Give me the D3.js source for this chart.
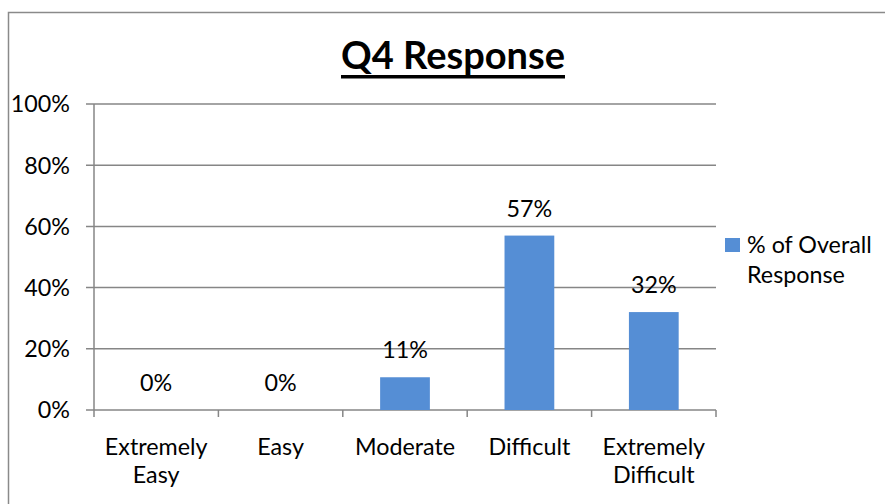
<!DOCTYPE html>
<html>
<head>
<meta charset="utf-8">
<script src="https://cdn.jsdelivr.net/npm/d3@7"></script>
<style>
  html, body { margin: 0; padding: 0; background: #fff; }
  svg { display: block; font-family: Lato, "Open Sans", sans-serif; }
</style>
</head>
<body>
<div id="chart"></div>
<script>
(function () {
  "use strict";

  // Data
  var categories = ["Extremely Easy", "Easy", "Moderate", "Difficult", "Extremely Difficult"];
  var values = [0, 0, 0.107, 0.57, 0.32];
  var value_labels = ["0%", "0%", "11%", "57%", "32%"];
  var y_ticks = [0, 0.2, 0.4, 0.6, 0.8, 1.0];
  var series_name = ["% of Overall", "Response"];
  var title_text = "Q4 Response";

  var W = 885, H = 504;
  var bar_color = "#558ED5";
  var grid_color = "#868686";
  var font_size = 23.3;

  var svg = d3.select("#chart").append("svg")
    .attr("width", W)
    .attr("height", H);

  // Chart border (runs off the right and bottom edges)
  svg.append("rect")
    .attr("x", 8.5).attr("y", 12.5)
    .attr("width", W + 20).attr("height", H + 20)
    .attr("fill", "none")
    .attr("stroke", "#8a8a8a")
    .attr("stroke-width", 1.5);

  // Scales
  var x = d3.scaleBand().domain(categories).range([94, 716]);
  var y = d3.scaleLinear().domain([0, 1]).range([410, 104]);
  var bar_w = x.bandwidth() * 0.4;

  // Gridlines + y ticks
  svg.append("g")
    .selectAll("line")
    .data(y_ticks)
    .enter()
    .append("line")
    .attr("x1", 86).attr("x2", 716)
    .attr("y1", function (d) { return y(d); })
    .attr("y2", function (d) { return y(d); })
    .attr("stroke", grid_color)
    .attr("stroke-width", 1.5);

  svg.append("g")
    .selectAll("text")
    .data(y_ticks)
    .enter()
    .append("text")
    .attr("x", 70)
    .attr("y", function (d) { return y(d); })
    .attr("dy", "0.36em")
    .attr("text-anchor", "end")
    .attr("font-size", font_size)
    .attr("fill", "#000")
    .text(d3.format(".0%"));

  // Y axis line
  svg.append("line")
    .attr("x1", 94).attr("x2", 94)
    .attr("y1", y(1)).attr("y2", y(0))
    .attr("stroke", grid_color)
    .attr("stroke-width", 1.5);

  // X axis ticks at category boundaries
  var boundaries = categories.map(function (c) { return x(c); }).concat([x.range()[1]]);
  svg.append("g")
    .selectAll("line")
    .data(boundaries)
    .enter()
    .append("line")
    .attr("x1", function (d) { return d; })
    .attr("x2", function (d) { return d; })
    .attr("y1", y(0)).attr("y2", y(0) + 7)
    .attr("stroke", grid_color)
    .attr("stroke-width", 1.5);

  // Bars
  svg.append("g")
    .selectAll("rect")
    .data(values)
    .enter()
    .append("rect")
    .attr("x", function (d, i) { return x(categories[i]) + (x.bandwidth() - bar_w) / 2; })
    .attr("y", function (d) { return y(d); })
    .attr("width", bar_w)
    .attr("height", function (d) { return y(0) - y(d); })
    .attr("fill", bar_color);

  // Value labels
  svg.append("g")
    .selectAll("text")
    .data(values)
    .enter()
    .append("text")
    .attr("x", function (d, i) { return x(categories[i]) + x.bandwidth() / 2; })
    .attr("y", function (d) { return y(d) - 19; })
    .attr("text-anchor", "middle")
    .attr("font-size", font_size)
    .attr("fill", "#000")
    .text(function (d, i) { return value_labels[i]; });

  // Category labels, wrapped on spaces
  var cat_g = svg.append("g")
    .selectAll("text")
    .data(categories)
    .enter()
    .append("text")
    .attr("text-anchor", "middle")
    .attr("font-size", font_size)
    .attr("fill", "#000");
  cat_g.each(function (c) {
    var t = d3.select(this);
    c.split(" ").forEach(function (word, k) {
      t.append("tspan")
        .attr("x", x(c) + x.bandwidth() / 2)
        .attr("y", 455 + k * 28)
        .text(word);
    });
  });

  // Title, underline sized from the text box
  var title = svg.append("text")
    .attr("x", 453)
    .attr("y", 69)
    .attr("text-anchor", "middle")
    .attr("font-size", 38)
    .attr("font-weight", "bold")
    .attr("fill", "#000")
    .text(title_text);
  var tb = title.node().getBBox();
  svg.append("rect")
    .attr("x", tb.x).attr("y", 75)
    .attr("width", tb.width).attr("height", 3.5)
    .attr("fill", "#000");

  // Legend
  svg.append("rect")
    .attr("x", 725).attr("y", 238)
    .attr("width", 15).attr("height", 14)
    .attr("fill", bar_color);
  svg.append("text")
    .attr("font-size", font_size)
    .attr("fill", "#000")
    .selectAll("tspan")
    .data(series_name)
    .enter()
    .append("tspan")
    .attr("x", 747)
    .attr("y", function (d, i) { return 253 + i * 30; })
    .text(function (d) { return d; });
})();
</script>
</body>
</html>
